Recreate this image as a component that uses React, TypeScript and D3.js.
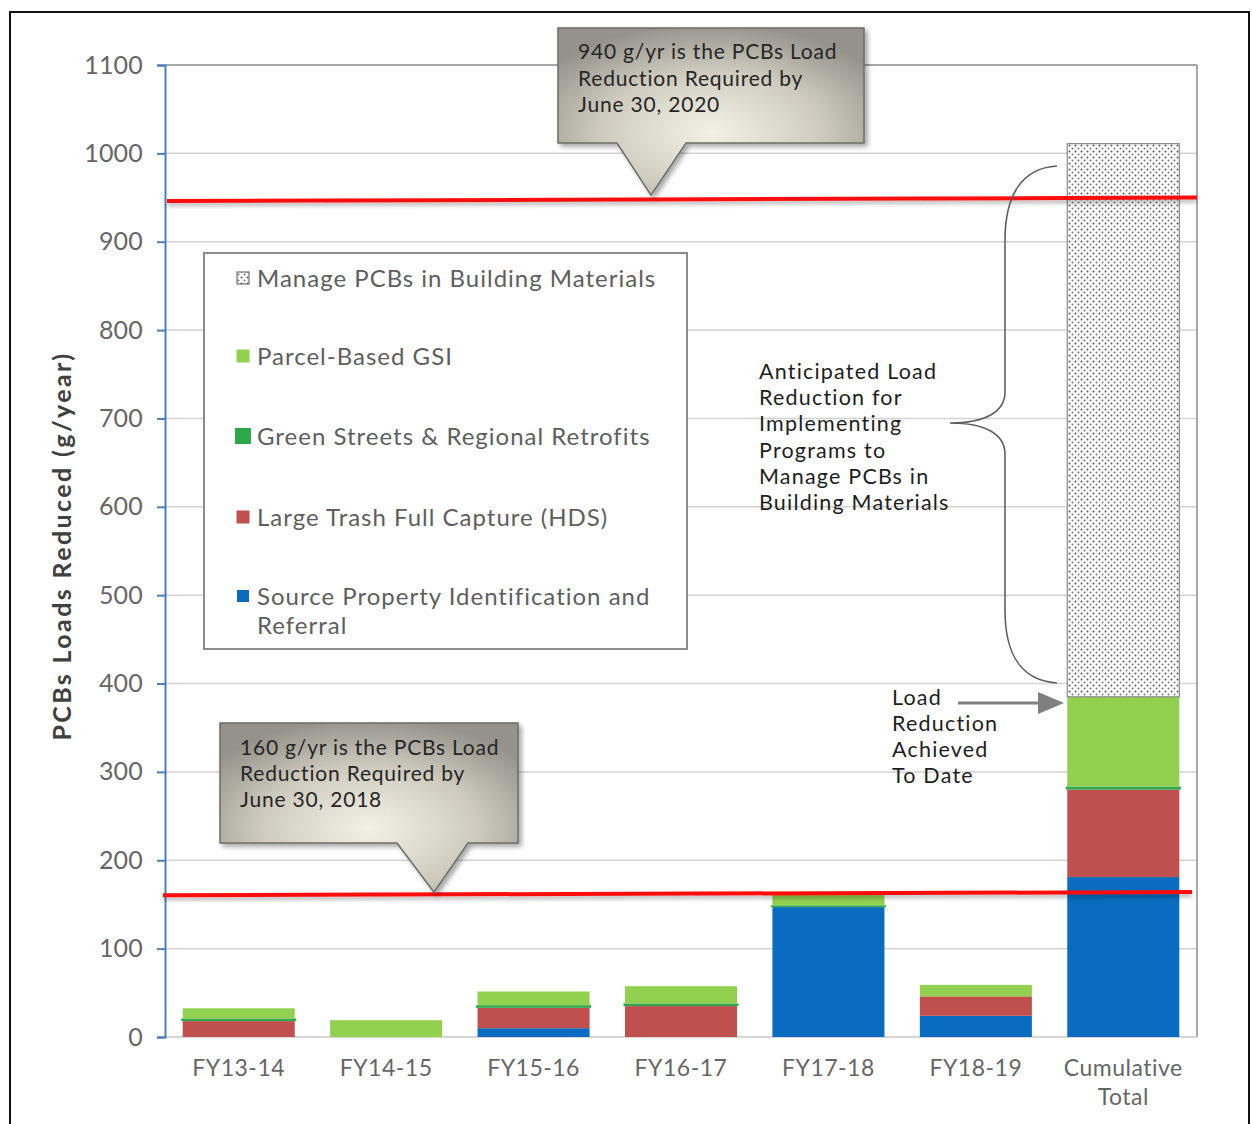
import React, { useEffect, useRef } from "react";
import * as d3 from "d3";

const categories = ["FY13-14", "FY14-15", "FY15-16", "FY16-17", "FY17-18", "FY18-19", "Cumulative Total"];
const categoryLabelLines = [["FY13-14"], ["FY14-15"], ["FY15-16"], ["FY16-17"], ["FY17-18"], ["FY18-19"], ["Cumulative", "Total"]];

const sourceProperty = [0, 0, 10, 0, 147, 24, 181];
const largeTrash = [18, 0, 23, 35, 0, 22, 99];
const greenStreets = [3, 0, 3, 3, 2, 0, 3.5];
const parcelGSI = [11.5, 19, 15.5, 19.5, 14, 13, 101.5];
const buildingMaterials = [0, 0, 0, 0, 0, 0, 626];

const seriesKeys = ["source", "trash", "streets", "parcel", "building"];
const seriesNames = [
  "Source Property Identification and Referral",
  "Large Trash Full Capture (HDS)",
  "Green Streets & Regional Retrofits",
  "Parcel-Based GSI",
  "Manage PCBs in Building Materials",
];
const seriesColors = ["#0a6cc0", "#c0504d", "#2fa84a", "#92d050", "url(#stipple)"];

const yTicks = [0, 100, 200, 300, 400, 500, 600, 700, 800, 900, 1000, 1100];

const target2020 = [946, 950];
const target2018 = [160.5, 164];
const callout2020 = ["940 g/yr is the PCBs Load", "Reduction Required by", "June 30, 2020"];
const callout2018 = ["160 g/yr is the PCBs Load", "Reduction Required by", "June 30, 2018"];
const braceText = ["Anticipated Load", "Reduction for", "Implementing", "Programs to", "Manage PCBs in", "Building Materials"];
const achievedText = ["Load", "Reduction", "Achieved", "To Date"];

const FONT = "Lato, 'Open Sans', 'DejaVu Sans', sans-serif";

export default function App() {
  const axisRef = useRef<SVGGElement>(null);

  const left = 165, right = 1197, top = 65, bottom = 1037;
  const x = d3.scaleBand<string>().domain(categories).range([left, right]).paddingInner(0.24).paddingOuter(0.12);
  const y = d3.scaleLinear().domain([0, 1100]).range([bottom, top]);

  const rows = categories.map((c, i) => ({
    cat: c,
    source: sourceProperty[i],
    trash: largeTrash[i],
    streets: greenStreets[i],
    parcel: parcelGSI[i],
    building: buildingMaterials[i],
  }));
  const stacked = d3.stack<any>().keys(seriesKeys)(rows);

  useEffect(() => {
    if (!axisRef.current) return;
    const g = d3.select(axisRef.current);
    g.selectAll("*").remove();
    g.call(d3.axisLeft(y).tickValues(yTicks).tickSize(8).tickPadding(14).tickFormat(d3.format("d")) as any);
    g.select(".domain").attr("stroke", "#4a7ebb").attr("stroke-width", 2);
    g.selectAll(".tick line").attr("stroke", "#4a7ebb").attr("stroke-width", 2);
    g.selectAll(".tick text")
      .attr("fill", "#666")
      .attr("font-size", 25)
      .attr("font-family", FONT)
      .attr("letter-spacing", "0.2px");
  }, []);

  const lineGen = d3.line<[number, number]>().x((d) => d[0]).y((d) => d[1]);

  const t20y0 = y(target2020[0]), t20y1 = y(target2020[1]);
  const t18y0 = y(target2018[0]), t18y1 = y(target2018[1]);

  const legendItems = [
    { i: 4, y: 278, size: 12 },
    { i: 3, y: 356, size: 13 },
    { i: 2, y: 436, size: 16 },
    { i: 1, y: 517, size: 13 },
    { i: 0, y: 596, size: 12 },
  ];

  const multiLine = (lines: string[], x0: number, y0: number, lh: number, fs: number, ls: number, fill: string, key: string) =>
    lines.map((ln, k) => (
      <text key={key + k} x={x0} y={y0 + k * lh} fontSize={fs} letterSpacing={ls} fill={fill}>
        {ln}
      </text>
    ));

  return (
    <svg width={1252} height={1124} style={{ position: "absolute", left: 0, top: 0, background: "#fff" }} fontFamily={FONT}>
      <defs>
        <pattern id="stipple" width={6} height={6} patternUnits="userSpaceOnUse">
          <rect width={6} height={6} fill="#fbfbfb" />
          <circle cx={1.5} cy={1.5} r={0.95} fill="#555" />
          <circle cx={4.5} cy={4.5} r={0.95} fill="#777" />
        </pattern>
        <radialGradient id="calloutGrad" cx="50%" cy="62%" r="65%">
          <stop offset="0%" stopColor="#f3f1e6" />
          <stop offset="55%" stopColor="#cfccbf" />
          <stop offset="100%" stopColor="#94928a" />
        </radialGradient>
        <filter id="shadow" x="-10%" y="-10%" width="130%" height="140%">
          <feDropShadow dx={3} dy={3} stdDeviation={2.5} floodColor="#000" floodOpacity={0.35} />
        </filter>
        <filter id="lineShadow" x="-5%" y="-200%" width="110%" height="500%">
          <feDropShadow dx={0} dy={3} stdDeviation={2} floodColor="#000" floodOpacity={0.3} />
        </filter>
      </defs>

      {/* outer frame */}
      <rect x={10} y={12} width={1239} height={1130} fill="none" stroke="#111" strokeWidth={2} />

      {/* gridlines */}
      {yTicks.filter((t) => t > 0 && t < 1100).map((t) => (
        <line key={t} x1={left} x2={right} y1={y(t)} y2={y(t)} stroke="#d3d3d3" strokeWidth={1.5} />
      ))}
      <line x1={left} x2={right} y1={y(1100)} y2={y(1100)} stroke="#8a8a8a" strokeWidth={1.5} />
      <line x1={right} x2={right} y1={y(1100)} y2={y(0)} stroke="#8a8a8a" strokeWidth={1.5} />
      <line x1={left} x2={right} y1={y(0)} y2={y(0)} stroke="#c8c8c8" strokeWidth={1.5} />

      {/* bars */}
      {stacked.map((s, si) => (
        <g key={s.key}>
          {s.map((d, ci) =>
            d[1] - d[0] > 0 ? (
              <rect
                key={ci}
                x={x(categories[ci])! - (si === 2 ? 1.5 : 0)}
                y={y(d[1])}
                width={x.bandwidth() + (si === 2 ? 3 : 0)}
                height={y(d[0]) - y(d[1])}
                fill={seriesColors[si]}
                stroke={si === 4 ? "#8a8a8a" : "none"}
                strokeWidth={si === 4 ? 1.2 : 0}
              />
            ) : null
          )}
        </g>
      ))}

      {/* y axis */}
      <g ref={axisRef} transform={`translate(${left},0)`} />

      {/* y axis title */}
      <text
        transform={`translate(71,546) rotate(-90)`}
        textAnchor="middle"
        fontWeight="bold"
        fontSize={25}
        letterSpacing={2.4}
        fill="#404040"
      >
        PCBs Loads Reduced (g/year)
      </text>

      {/* x labels */}
      {categories.map((c, i) =>
        categoryLabelLines[i].map((ln, k) => (
          <text
            key={c + k}
            x={x(c)! + x.bandwidth() / 2}
            y={1076 + k * 29}
            textAnchor="middle"
            fontSize={23}
            letterSpacing={0.5}
            fill="#666"
          >
            {ln}
          </text>
        ))
      )}

      {/* target lines */}
      <path d={lineGen([[left + 2, t20y0], [right, t20y1]])!} stroke="#ff0d0d" strokeWidth={4} fill="none" filter="url(#lineShadow)" />
      <path d={lineGen([[163, t18y0], [1192, t18y1]])!} stroke="#ff0d0d" strokeWidth={4} fill="none" filter="url(#lineShadow)" />

      {/* legend */}
      <rect x={204} y={253} width={483} height={396} fill="#fff" stroke="#8c8c8c" strokeWidth={2} />
      {legendItems.map((it) => (
        <g key={it.i}>
          <rect
            x={243 - it.size / 2}
            y={it.y - it.size / 2}
            width={it.size}
            height={it.size}
            fill={seriesColors[it.i]}
            stroke={it.i === 4 ? "#555" : "none"}
            strokeWidth={1}
          />
          {it.i === 0
            ? multiLine(["Source Property Identification and", "Referral"], 257, it.y + 8.5, 29, 24, 1.0, "#5e5e5e", "src")
            : multiLine([seriesNames[it.i]], 257, it.y + 8.5, 29, 24, 1.0, "#5e5e5e", "leg" + it.i)}
        </g>
      ))}

      {/* callout 2020 */}
      <path
        d={`M558,28 H864 V143 H686 L651,${t20y0 - 6} L617,143 H558 Z`}
        fill="url(#calloutGrad)"
        stroke="#6e6d66"
        strokeWidth={1.5}
        filter="url(#shadow)"
      />
      {multiLine(callout2020, 578, 59, 26.5, 21, 0.8, "#262626", "c20")}

      {/* callout 2018 */}
      <path
        d={`M220,723 H518 V843 H468 L434,${t18y0 - 3} L397,843 H220 Z`}
        fill="url(#calloutGrad)"
        stroke="#6e6d66"
        strokeWidth={1.5}
        filter="url(#shadow)"
      />
      {multiLine(callout2018, 240, 755, 26, 21, 0.8, "#262626", "c18")}

      {/* brace */}
      <path
        d="M1057,166 C1022,168 1005,195 1005,240 L1005,392 C1005,412 985,423 950,423 C985,423 1005,434 1005,454 L1005,610 C1005,655 1022,681 1057,683"
        fill="none"
        stroke="#5f5f5f"
        strokeWidth={1.6}
      />
      {multiLine(braceText, 759, 379, 26.2, 21.5, 1.2, "#1e1e1e", "brace")}

      {/* achieved arrow */}
      <line x1={958} y1={703} x2={1040} y2={703} stroke="#7f7f7f" strokeWidth={3} />
      <path d="M1038,692 L1064,703 L1038,714 Z" fill="#7f7f7f" />
      {multiLine(achievedText, 892, 705, 26, 21.5, 1.2, "#1e1e1e", "ach")}
    </svg>
  );
}
